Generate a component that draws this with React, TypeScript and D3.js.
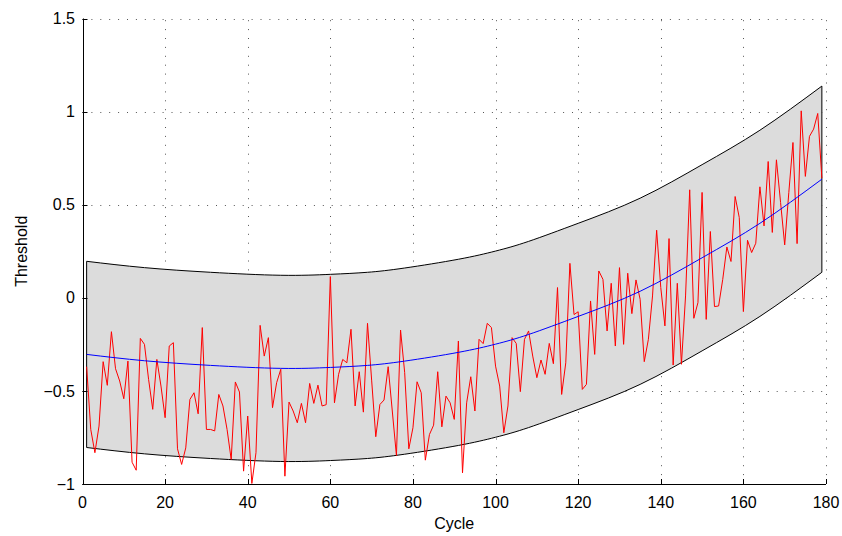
import React from "react";
import * as d3 from "d3";

const cycles: number[] = d3.range(1, 180);
const threshold: number[] = [
  -0.37, -0.707, -0.832, -0.689, -0.343, -0.47, -0.182, -0.381, -0.447, -0.542,
  -0.34, -0.883, -0.926, -0.218, -0.25, -0.438, -0.599, -0.331, -0.474, -0.644,
  -0.259, -0.241, -0.811, -0.895, -0.806, -0.546, -0.51, -0.623, -0.16, -0.707,
  -0.707, -0.715, -0.519, -0.581, -0.707, -0.868, -0.452, -0.506, -0.931, -0.635,
  -0.997, -0.832, -0.148, -0.313, -0.214, -0.59, -0.456, -0.384, -0.958, -0.56,
  -0.608, -0.671, -0.567, -0.671, -0.46, -0.567, -0.469, -0.581, -0.574, 0.114,
  -0.564, -0.411, -0.331, -0.349, -0.169, -0.581, -0.397, -0.614, -0.137, -0.442,
  -0.746, -0.573, -0.549, -0.37, -0.608, -0.847, -0.173, -0.402, -0.811, -0.698,
  -0.451, -0.51, -0.872, -0.734, -0.684, -0.397, -0.693, -0.528, -0.564, -0.653,
  -0.232, -0.94, -0.564, -0.424, -0.608, -0.223, -0.246, -0.137, -0.16, -0.367,
  -0.474, -0.725, -0.581, -0.214, -0.245, -0.504, -0.223, -0.178, -0.313, -0.429,
  -0.334, -0.411, -0.245, -0.354, 0.055, -0.519, -0.349, 0.185, -0.09, -0.075,
  -0.492, -0.465, -0.017, -0.304, 0.144, 0.099, -0.178, 0.078, -0.259, 0.162,
  -0.25, 0.132, -0.085, 0.096, -0.008, -0.343, -0.223, 0.01, 0.363, 0.055,
  -0.151, 0.318, -0.361, 0.078, -0.357, 0.01, 0.58, -0.11, -0.026, 0.566,
  -0.116, 0.356, -0.047, -0.044, 0.099, 0.273, 0.195, 0.544, 0.431, -0.074,
  0.309, 0.243, 0.293, 0.596, 0.386, 0.732, 0.351, 0.741, 0.512, 0.284,
  0.566, 0.834, 0.291, 1.004, 0.652, 0.867, 0.906, 0.99, 0.642,
];

const fitCycles: number[] = [1, 15, 31, 48, 60, 69, 78, 91, 100, 108, 120, 135, 150, 164, 179];
const fitValues: number[] = [-0.304, -0.338, -0.363, -0.379, -0.374, -0.363, -0.34, -0.293, -0.249, -0.197, -0.1, 0.035, 0.215, 0.4, 0.637];
const upperValues: number[] = [0.196, 0.162, 0.137, 0.121, 0.126, 0.137, 0.16, 0.207, 0.251, 0.303, 0.4, 0.535, 0.715, 0.9, 1.137];
const lowerValues: number[] = [-0.804, -0.838, -0.863, -0.879, -0.874, -0.863, -0.84, -0.793, -0.749, -0.697, -0.6, -0.465, -0.285, -0.1, 0.137];

const xTicks: number[] = [0, 20, 40, 60, 80, 100, 120, 140, 160, 180];
const yTicks: number[] = [-1, -0.5, 0, 0.5, 1, 1.5];
const yTickLabels: string[] = ["\u22121", "\u22120.5", "0", "0.5", "1", "1.5"];

const W = 842;
const H = 536;

export default function App() {
  const x = d3.scaleLinear().domain([0, 180]).range([82.5, 826]);
  const y = d3.scaleLinear().domain([-1, 1.5]).range([484, 18.5]);

  const redLine = d3
    .line<number>()
    .x((_, i) => x(cycles[i]))
    .y((d) => y(d))(threshold) as string;

  const fitLine = d3
    .line<number>()
    .x((_, i) => x(fitCycles[i]))
    .y((d) => y(d))
    .curve(d3.curveNatural)(fitValues) as string;

  const band = d3
    .area<number>()
    .x((_, i) => x(fitCycles[i]))
    .y0((_, i) => y(lowerValues[i]))
    .y1((d) => y(d))
    .curve(d3.curveNatural)(upperValues) as string;

  const upperLine = d3
    .line<number>()
    .x((_, i) => x(fitCycles[i]))
    .y((d) => y(d))
    .curve(d3.curveNatural)(upperValues) as string;
  const lowerLine = d3
    .line<number>()
    .x((_, i) => x(fitCycles[i]))
    .y((d) => y(d))
    .curve(d3.curveNatural)(lowerValues) as string;

  const x0 = x(0);
  const x1 = x(180);
  const yb = y(-1);
  const yt = y(1.5);
  const fx0 = x(fitCycles[0]);
  const fx1 = x(fitCycles[fitCycles.length - 1]);
  const font = "'Liberation Sans', Arial, Helvetica, sans-serif";

  return (
    <svg
      width={W}
      height={H}
      style={{ position: "absolute", left: 0, top: 0, display: "block", background: "#fff" }}
      fontFamily={font}
    >
      {/* grid */}
      <g stroke="#555" strokeWidth={1} strokeDasharray="1 7.9" fill="none">
        {xTicks.map((t) => (
          <line key={"gx" + t} x1={Math.round(x(t)) + 0.5} x2={Math.round(x(t)) + 0.5} y1={yb} y2={yt} />
        ))}
        {yTicks.map((t) => (
          <line key={"gy" + t} x1={x0} x2={x1} y1={Math.round(y(t)) + 0.5} y2={Math.round(y(t)) + 0.5} />
        ))}
      </g>

      {/* band */}
      <path d={band} fill="#dcdcdc" stroke="none" />
      <path d={upperLine} fill="none" stroke="#000" strokeWidth={1} />
      <path d={lowerLine} fill="none" stroke="#000" strokeWidth={1} />
      <line x1={fx0} x2={fx0} y1={y(upperValues[0])} y2={y(lowerValues[0])} stroke="#000" strokeWidth={1} />
      <line
        x1={fx1}
        x2={fx1}
        y1={y(upperValues[upperValues.length - 1])}
        y2={y(lowerValues[lowerValues.length - 1])}
        stroke="#000"
        strokeWidth={1}
      />

      {/* series */}
      <path d={redLine} fill="none" stroke="#ff0000" strokeWidth={1} strokeLinejoin="round" />
      <path d={fitLine} fill="none" stroke="#0000ff" strokeWidth={1} />

      {/* axes */}
      <line x1={Math.round(x0) + 0.5} x2={Math.round(x0) + 0.5} y1={yt} y2={yb} stroke="#000" strokeWidth={1} />
      <line x1={x0} x2={x1} y1={Math.round(yb) + 0.5} y2={Math.round(yb) + 0.5} stroke="#000" strokeWidth={1} />
      {xTicks.map((t) => (
        <g key={"xt" + t}>
          <line x1={Math.round(x(t)) + 0.5} x2={Math.round(x(t)) + 0.5} y1={yb} y2={yb - 5} stroke="#000" />
          <text x={x(t)} y={507.5} textAnchor="middle" fontSize={16} fill="#000">
            {t}
          </text>
        </g>
      ))}
      {yTicks.map((t, i) => (
        <g key={"yt" + t}>
          <line x1={x0} x2={x0 + 5} y1={Math.round(y(t)) + 0.5} y2={Math.round(y(t)) + 0.5} stroke="#000" />
          <text x={75} y={y(t)} dy="0.35em" textAnchor="end" fontSize={16} fill="#000">
            {yTickLabels[i]}
          </text>
        </g>
      ))}

      <text x={(x0 + x1) / 2} y={529} textAnchor="middle" fontSize={16} fill="#000">
        Cycle
      </text>
      <text
        transform={`translate(27, ${(yt + yb) / 2}) rotate(-90)`}
        textAnchor="middle"
        fontSize={16}
        fill="#000"
      >
        Threshold
      </text>
    </svg>
  );
}
